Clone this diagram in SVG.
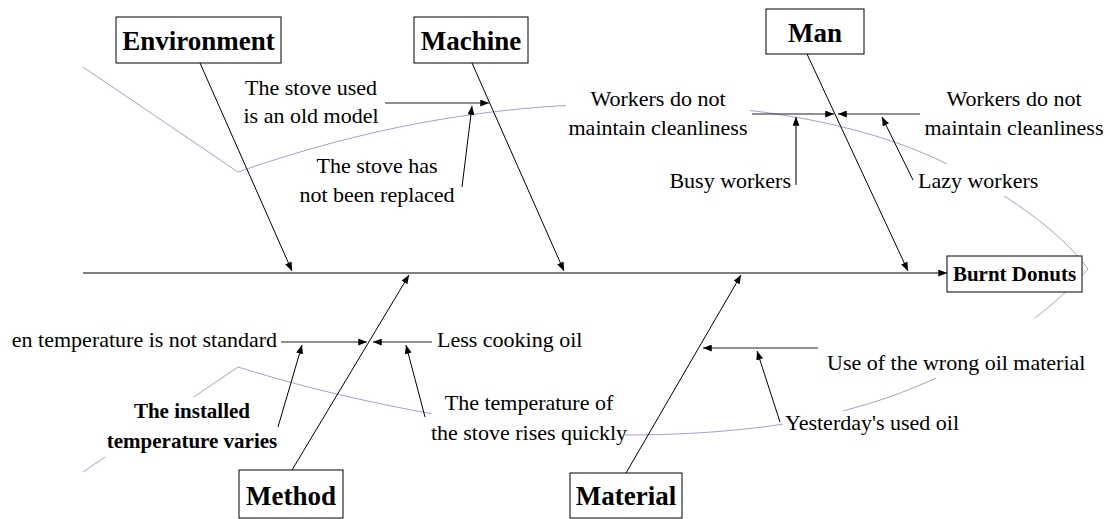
<svg xmlns="http://www.w3.org/2000/svg" width="1110" height="519" viewBox="0 0 1110 519">
  <style>
    .bg { fill: #ffffff; }
    .fish { fill: none; stroke: #a99dd2; stroke-width: 1; }
    .mask { fill: #ffffff; stroke: none; }
    .bone { fill: none; stroke: #000000; stroke-width: 1; }
    .sub { fill: none; stroke: #222222; stroke-width: 1.2; }
    .box { fill: #ffffff; stroke: #000000; stroke-width: 1; }
    .cat { font-family: "Liberation Serif", "Times New Roman", serif; font-size: 27px; font-weight: bold; fill: #000000; text-anchor: middle; }
    .head { font-family: "Liberation Serif", "Times New Roman", serif; font-size: 21px; font-weight: bold; fill: #000000; text-anchor: middle; }
    .lbl { font-family: "Liberation Serif", "Times New Roman", serif; font-size: 22px; fill: #000000; }
    .lblb { font-family: "Liberation Serif", "Times New Roman", serif; font-size: 21px; font-weight: bold; fill: #000000; text-anchor: middle; }
    .mid { text-anchor: middle; }
    .end { text-anchor: end; }
  </style>
  <defs>
    <marker id="arrow" viewBox="0 0 10 8" refX="10" refY="4" markerWidth="9" markerHeight="7" markerUnits="userSpaceOnUse" orient="auto">
      <path d="M0,0 L10,4 L0,8 Z" fill="#000000"/>
    </marker>
  </defs>

  <rect class="bg" x="0" y="0" width="1110" height="519"/>

  <!-- fish silhouette behind the diagram -->
  <g id="fish-outline">
    <path class="fish" d="M83,67 L238,172 C330,140 450,108 600,104 C720,100 860,118 953,167 C1000,190 1060,230 1088,269 C1045,318 960,380 850,409 C800,425 720,435 625,435 C480,430 330,396 238,367 L83,472"/>
  </g>

  <!-- white backing under the labels that sit on the outline -->
  <g id="label-backs">
    <rect class="mask" x="566" y="86" width="184" height="55"/>
    <rect class="mask" x="915" y="164" width="115" height="32"/>
    <rect class="mask" x="431" y="392" width="194" height="55"/>
    <rect class="mask" x="104" y="397" width="182" height="60"/>
    <rect class="mask" x="783" y="411" width="186" height="26"/>
    <rect class="mask" x="825" y="318" width="258" height="60"/>
  </g>

  <!-- connectors -->
  <g id="connectors">
    <!-- spine -->
    <line class="bone" x1="83" y1="273" x2="947" y2="273" marker-end="url(#arrow)"/>
    <!-- main bones -->
    <line class="bone" x1="200" y1="63" x2="292" y2="271" marker-end="url(#arrow)"/>
    <line class="bone" x1="472" y1="63" x2="564" y2="271" marker-end="url(#arrow)"/>
    <line class="bone" x1="807" y1="54" x2="908" y2="271" marker-end="url(#arrow)"/>
    <line class="bone" x1="292" y1="470" x2="409" y2="275" marker-end="url(#arrow)"/>
    <line class="bone" x1="626" y1="473" x2="741" y2="275" marker-end="url(#arrow)"/>
    <!-- machine causes -->
    <line class="sub" x1="385" y1="103" x2="489" y2="103" marker-end="url(#arrow)"/>
    <line class="bone" x1="462" y1="187" x2="472" y2="106" marker-end="url(#arrow)"/>
    <!-- man causes -->
    <line class="sub" x1="752" y1="114" x2="834" y2="114" marker-end="url(#arrow)"/>
    <line class="sub" x1="920" y1="114" x2="838" y2="114" marker-end="url(#arrow)"/>
    <line class="sub" x1="796" y1="185" x2="796" y2="117" marker-end="url(#arrow)"/>
    <line class="bone" x1="913" y1="180" x2="882" y2="117" marker-end="url(#arrow)"/>
    <!-- method causes -->
    <line class="sub" x1="281" y1="342" x2="367" y2="342" marker-end="url(#arrow)"/>
    <line class="sub" x1="432" y1="342" x2="373" y2="342" marker-end="url(#arrow)"/>
    <line class="bone" x1="278" y1="427" x2="302" y2="345" marker-end="url(#arrow)"/>
    <line class="bone" x1="425" y1="417" x2="406" y2="345" marker-end="url(#arrow)"/>
    <!-- material causes -->
    <line class="sub" x1="818" y1="348" x2="703" y2="348" marker-end="url(#arrow)"/>
    <line class="bone" x1="780" y1="422" x2="757" y2="351" marker-end="url(#arrow)"/>
  </g>

  <!-- category boxes -->
  <g id="environment">
    <rect class="box" x="116" y="17" width="165" height="46"/>
    <text class="cat" x="198.5" y="50">Environment</text>
  </g>
  <g id="machine">
    <rect class="box" x="414" y="17" width="114" height="46"/>
    <text class="cat" x="471" y="50">Machine</text>
  </g>
  <g id="man">
    <rect class="box" x="766" y="9" width="98" height="45"/>
    <text class="cat" x="815" y="42">Man</text>
  </g>
  <g id="method">
    <rect class="box" x="239" y="470" width="104" height="48"/>
    <text class="cat" x="291" y="505">Method</text>
  </g>
  <g id="material">
    <rect class="box" x="570" y="473" width="112" height="45"/>
    <text class="cat" x="626" y="505">Material</text>
  </g>
  <g id="burnt-donuts">
    <rect class="box" x="947" y="256" width="135" height="36"/>
    <text class="head" x="1014.5" y="281">Burnt Donuts</text>
  </g>

  <!-- cause labels -->
  <g id="stove-old-model">
    <text class="lbl mid" x="311" y="95">The stove used</text>
    <text class="lbl mid" x="311" y="123">is an old model</text>
  </g>
  <g id="stove-not-replaced">
    <text class="lbl mid" x="377" y="173">The stove has</text>
    <text class="lbl mid" x="377" y="202">not been replaced</text>
  </g>
  <g id="workers-cleanliness-left">
    <text class="lbl mid" x="658" y="106">Workers do not</text>
    <text class="lbl mid" x="658" y="135">maintain cleanliness</text>
  </g>
  <g id="workers-cleanliness-right">
    <text class="lbl mid" x="1014" y="106">Workers do not</text>
    <text class="lbl mid" x="1014" y="135">maintain cleanliness</text>
  </g>
  <g id="busy-workers">
    <text class="lbl end" x="791" y="188">Busy workers</text>
  </g>
  <g id="lazy-workers">
    <text class="lbl" x="918" y="188">Lazy workers</text>
  </g>
  <g id="oven-temperature">
    <text class="lbl end" x="277" y="347">en temperature is not standard</text>
  </g>
  <g id="less-cooking-oil">
    <text class="lbl" x="437" y="347">Less cooking oil</text>
  </g>
  <g id="installed-temperature">
    <text class="lblb" x="192" y="418">The installed</text>
    <text class="lblb" x="192" y="448">temperature varies</text>
  </g>
  <g id="stove-temperature-rises">
    <text class="lbl mid" x="529" y="410">The temperature of</text>
    <text class="lbl mid" x="529" y="440">the stove rises quickly</text>
  </g>
  <g id="wrong-oil">
    <text class="lbl" x="827" y="370">Use of the wrong oil material</text>
  </g>
  <g id="used-oil">
    <text class="lbl" x="785" y="430">Yesterday's used oil</text>
  </g>
</svg>
